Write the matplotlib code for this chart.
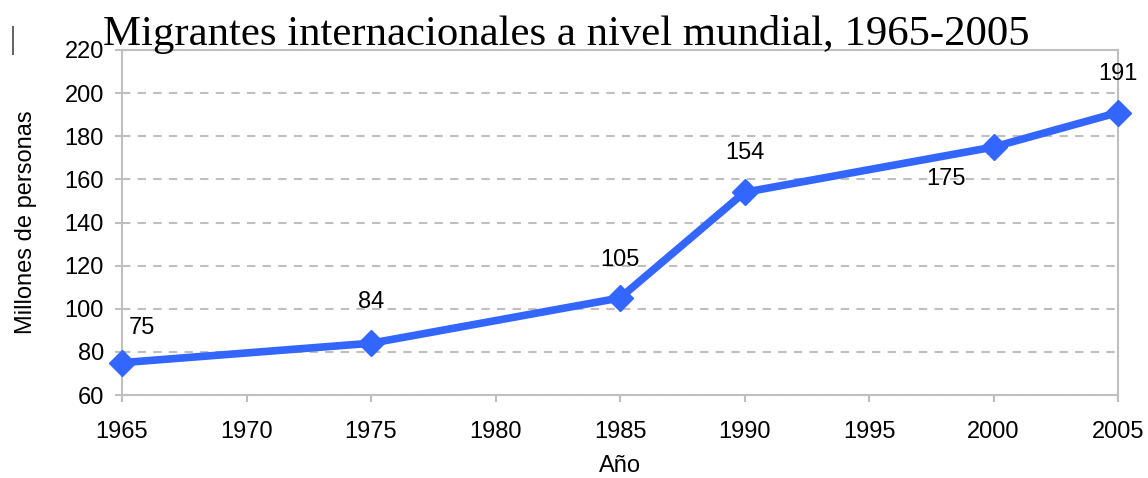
import matplotlib
matplotlib.use("Agg")
import matplotlib.pyplot as plt

years = [1965, 1975, 1985, 1990, 2000, 2005]
migrants = [75, 84, 105, 154, 175, 191]
label_offsets = [(20, 35), (0, 41), (0, 38), (0, 39), (-48, -32), (0, 39)]
xticks = [1965, 1970, 1975, 1980, 1985, 1990, 1995, 2000, 2005]
yticks = [60, 80, 100, 120, 140, 160, 180, 200, 220]

title = "Migrantes internacionales a nivel mundial, 1965-2005"
xlabel = "Año"
ylabel = "Millones de personas"

plt.rcParams['font.family'] = ['Liberation Sans', 'DejaVu Sans']

fig = plt.figure(figsize=(11.48, 4.78), dpi=100)
ax = fig.add_axes([122/1148, 1 - 395/478, (1118-122)/1148, (395-50)/478])

grey = '#BFBFBF'
blue = '#3366FF'

ax.set_xlim(1965, 2005)
ax.set_ylim(60, 220)
ax.set_xticks(xticks)
ax.set_yticks(yticks)
ax.tick_params(axis='both', labelsize=17, color=grey, width=1.5, length=5, direction='out')
ax.tick_params(axis='x', pad=14)
ax.tick_params(axis='y', pad=8)

for s in ax.spines.values():
    s.set_color(grey)
    s.set_linewidth(1.5)

ax.yaxis.grid(True, color=grey, linestyle=(0, (4, 3.5)), linewidth=1.5)
ax.set_axisbelow(True)

ax.plot(years, migrants, color=blue, linewidth=5.5, marker='D', markersize=13.5,
        clip_on=False, zorder=3)

for x, y, (dx, dy) in zip(years, migrants, label_offsets):
    ax.annotate(str(y), (x, y), xytext=(dx * 0.72, dy * 0.72), textcoords='offset points',
                ha='center', va='center', fontsize=17)

ax.set_xlabel(xlabel, fontsize=17, labelpad=8)
ax.set_ylabel(ylabel, fontsize=17, labelpad=20)

fig.text(103/1148, 1 - 45/478, title, family='Liberation Serif', fontsize=30.8,
         ha='left', va='baseline')
fig.text(10/1148, 1 - 48/478, "|", family='Liberation Serif', fontsize=22,
         ha='left', va='baseline', color='#333333')

fig.savefig("out.png", dpi=100)
